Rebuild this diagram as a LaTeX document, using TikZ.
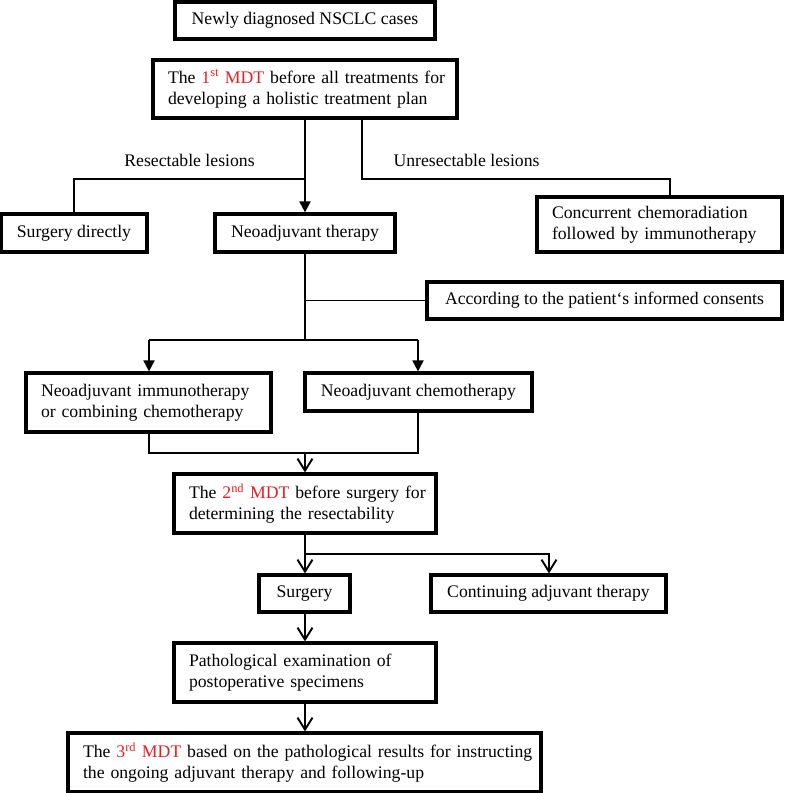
\documentclass[tikz,border=0pt]{standalone}
\usepackage{fontspec}
\setmainfont{Liberation Serif}
\usetikzlibrary{arrows.meta}
\definecolor{mdtred}{RGB}{235,28,36}
\newcommand{\fsz}{\fontsize{17.7}{21}\selectfont}
\newcommand{\mdtmark}[2]{\textcolor{mdtred}{#1\textsuperscript{#2} MDT}}
\begin{document}
\begin{tikzpicture}[x=1pt,y=-1pt,
  box/.style={draw, line width=3.2pt, inner sep=0pt, align=center, font=\fsz},
  mbox/.style={draw, line width=3.2pt, inner xsep=15pt, inner ysep=0pt, align=left, font=\fsz},
  conn/.style={line width=1.9pt},
  fillarrow/.style={conn, -{Triangle[length=11pt,width=11pt]}},
  openarrow/.style={conn, -{Straight Barb[length=12pt,width=15pt]}},
  lbl/.style={font=\fsz, inner sep=0pt}]
\useasboundingbox (0,0) rectangle (787,793);

\node[box, minimum width=260pt, minimum height=37pt] (new) at (305,20.5) {Newly diagnosed NSCLC cases};
\node[mbox, text width=274pt, minimum height=58pt] (mdt1) at (305,89)
  {\mbox{The \mdtmark{1}{st} before all treatments for}\\\mbox{developing a holistic treatment plan}};
\node[box, minimum width=146pt, minimum height=38pt] (sd) at (74,233) {Surgery directly};
\node[box, minimum width=180pt, minimum height=38pt] (neo) at (305,233) {Neoadjuvant therapy};
\node[mbox, text width=215pt, minimum height=55pt] (conc) at (659.5,224.5)
  {\mbox{Concurrent chemoradiation}\\\mbox{followed by immunotherapy}};
\node[box, minimum width=355pt, minimum height=37pt] (acc) at (604.5,300.5) {According to the patient‘s informed consents};
\node[mbox, text width=215pt, minimum height=59pt] (imm) at (148.5,402.5)
  {\mbox{Neoadjuvant immunotherapy}\\\mbox{or combining chemotherapy}};
\node[box, minimum width=227pt, minimum height=38pt] (chemo) at (418.5,392) {Neoadjuvant chemotherapy};
\node[mbox, text width=232pt, minimum height=59pt] (mdt2) at (305,503.5)
  {\mbox{The \mdtmark{2}{nd} before surgery for}\\\mbox{determining the resectability}};
\node[box, minimum width=91pt, minimum height=37pt] (surg) at (304.5,593.5) {Surgery};
\node[box, minimum width=235pt, minimum height=37pt] (cont) at (548.5,593.5) {Continuing adjuvant therapy};
\node[mbox, text width=232pt, minimum height=59pt] (path) at (305,672.5)
  {\mbox{Pathological examination of}\\\mbox{postoperative specimens}};
\node[mbox, text width=443pt, minimum height=59pt] (mdt3) at (304.5,762.5)
  {\mbox{The \mdtmark{3}{rd} based on the pathological results for instructing}\\\mbox{the ongoing adjuvant therapy and following-up}};

\node[lbl] (lres) at (189.5,160) {Resectable lesions};
\node[lbl] (lunres) at (466.5,160) {Unresectable lesions};

% first split
\coordinate (j1) at (305,179);
\coordinate (r0) at (362,118);
\coordinate (r1) at (670,179);
\draw[fillarrow] (mdt1.south) -- (neo.north);
\draw[conn] (j1) -| (sd.north);
\draw[conn] (r0) |- (r1) -- (r1 |- conc.north);

% neoadjuvant split
\coordinate (j2) at (305,340);
\coordinate (j3) at (305,300.5);
\coordinate (a1) at (149,340);
\coordinate (a2) at (418,340);
\draw[conn] (neo.south) -- (j2);
\draw[conn] (j3) -- (acc.west);
\draw[conn] (a1) -- (a2);
\draw[fillarrow] (a1) -- (a1 |- imm.north);
\draw[fillarrow] (a2) -- (a2 |- chemo.north);

% join
\coordinate (j4) at (305,453);
\draw[conn] (a1 |- imm.south) |- (j4) -| (a2 |- chemo.south);
\draw[openarrow] (j4) -- (mdt2.north);

% second split
\coordinate (j5) at (305,554);
\coordinate (c1) at (549,554);
\draw[conn] (mdt2.south) -- (j5);
\draw[openarrow] (j5) -- (j5 |- surg.north);
\draw[openarrow] (j5) -- (c1) -- (c1 |- cont.north);

\draw[openarrow] (j5 |- surg.south) -- (path.north);
\draw[openarrow] (path.south) -- (j5 |- mdt3.north);
\end{tikzpicture}
\end{document}
